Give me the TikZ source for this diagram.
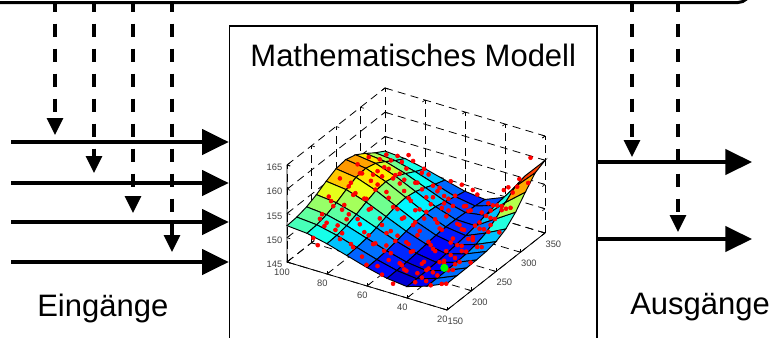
\documentclass[tikz,border=0pt]{standalone}
\usepackage{fontspec}
\setmainfont{Liberation Sans}
\usepackage{pgfplots}
\pgfplotsset{compat=1.18}
\usetikzlibrary{arrows.meta,positioning,calc}

\begin{document}
\begin{tikzpicture}[
  x=0.75pt, y=-0.75pt,
  font=\fontsize{23.25}{28}\selectfont,
  modellbox/.style={draw, line width=1.25pt, inner sep=0pt},
  steuerbox/.style={draw, line width=2.25pt, rounded corners=9pt, inner sep=0pt},
  signal/.style={-{Triangle[length=20pt,width=19pt]}, line width=2.5pt},
  stellgr/.style={-{Triangle[length=12.75pt,width=12pt]}, line width=2.5pt,
    dash pattern=on 9.75pt off 9pt, dash phase=4pt},
  txt/.style={inner sep=0pt, anchor=base},
  declare function={
    sq(\a)=(\a)*(\a);
    uu(\X)=1-\X/80;
    vv(\Y)=\Y/200;
    zmod(\X,\Y)=1.3+exp(-sq(\X/42))*(6-1.5*vv(\Y)+5.2*exp(-sq((vv(\Y)-0.6)/0.33)))
      +9.5*exp(-sq(uu(\X)/0.22)-sq((1-vv(\Y))/0.3))
      +4*exp(-sq(uu(\X)/0.15));
    px(\t)=5+72*(\t*0.7548777-floor(\t*0.7548777));
    py(\t)=6+190*(\t*0.5698403-floor(\t*0.5698403));
    dz(\t)=0.4+1.8*abs(sin(\t*137.3));
  }
]
\useasboundingbox (0,0) rectangle (769,337);
\clip (0,0) rectangle (769,337);

% Rahmen
\node[steuerbox, minimum width=585pt, minimum height=40.5pt] (steuer) at (360,-24.5) {};
\node[modellbox, minimum width=275.6pt, minimum height=250.5pt] (modell) at (413.25,193) {};
\node[txt] (titel) at (413.25,66) {Mathematisches Modell};

% Modell (Flaeche mit Messpunkten)
\begin{axis}[
  at={(215.25pt,-196.5pt)}, anchor=origin,
  x={(1.5pt,-0.45pt)}, y={(0.3675pt,0.28875pt)}, z={(0pt,3.6375pt)},
  xmin=0, xmax=80, ymin=0, ymax=200, zmin=0, zmax=20,
  xtick={0,20,...,80}, xticklabels={100,80,60,40,20},
  ytick={0,50,...,200}, yticklabels={150,200,250,300,350},
  ztick={0,5,...,20}, zticklabels={145,150,155,160,165},
  grid=major,
  major grid style={black, line width=0.6pt, dash pattern=on 6pt off 4pt},
  axis line style={draw=none},
  tick style={black, line width=0.5pt},
  major tick length=2.5pt,
  tick label style={font=\fontsize{7}{8}\selectfont, black!75},
  colormap={matjet}{rgb255=(0,0,128) rgb255=(0,0,255) rgb255=(0,128,255)
    rgb255=(0,255,255) rgb255=(128,255,128) rgb255=(255,255,0)
    rgb255=(255,128,0) rgb255=(255,0,0) rgb255=(128,0,0)},
  clip=false,
  point meta min=1.5, point meta max=14.8,
]
\addplot3[only marks, mark=*, mark size=1.5pt, red, point meta=none,
  samples at={1,3,...,199}, samples y=0, variable=\t]
  ({px(\t)},{py(\t)},{zmod(px(\t),py(\t))-dz(\t)});
\addplot3[surf, shader=faceted, faceted color=black, line width=0.7pt,
  z buffer=sort, point meta=z,
  domain=0:80, y domain=0:200, samples=9, samples y=11] {zmod(x,y)};
\draw[line width=0.6pt] (axis cs:0,0,20) -- (axis cs:0,0,0) -- (axis cs:80,0,0) -- (axis cs:80,200,0);
\addplot3[only marks, mark=*, mark size=1.5pt, red, point meta=none,
  samples at={2,4,...,200}, samples y=0, variable=\t]
  ({px(\t)},{py(\t)},{zmod(px(\t),py(\t))+dz(\t)});
\addplot3[only marks, mark=*, mark size=2.8pt, green, point meta=none,
  samples at={1}, samples y=0, variable=\t] ({63},{64},{1.5});
\end{axis}

% Eingaenge
\foreach \i/\yy in {1/142,2/183,3/222,4/262} {
  \coordinate (e\i) at (11,\yy);
  \draw[signal] (e\i) -- (e\i -| modell.west);
}
\foreach \i/\xx/\yy in {1/55/135,2/94/173,3/133/213,4/172/252} {
  \coordinate (s\i) at (\xx,\yy);
  \draw[stellgr] (s\i |- steuer.south) -- (s\i);
}

% Ausgaenge
\coordinate (a1) at (752,162);
\coordinate (a2) at (752,239);
\draw[signal] (modell.east |- a1) -- (a1);
\draw[signal] (modell.east |- a2) -- (a2);
\coordinate (r1) at (632,157);
\coordinate (r2) at (678,232);
\draw[stellgr] (r1 |- steuer.south) -- (r1);
\draw[stellgr] (r2 |- steuer.south) -- (r2);

\node[txt, anchor=base west] (eingaenge) at (37,316) {Eingänge};
\node[txt, anchor=base west] (ausgaenge) at (630,314) {Ausgänge};
\end{tikzpicture}
\end{document}
